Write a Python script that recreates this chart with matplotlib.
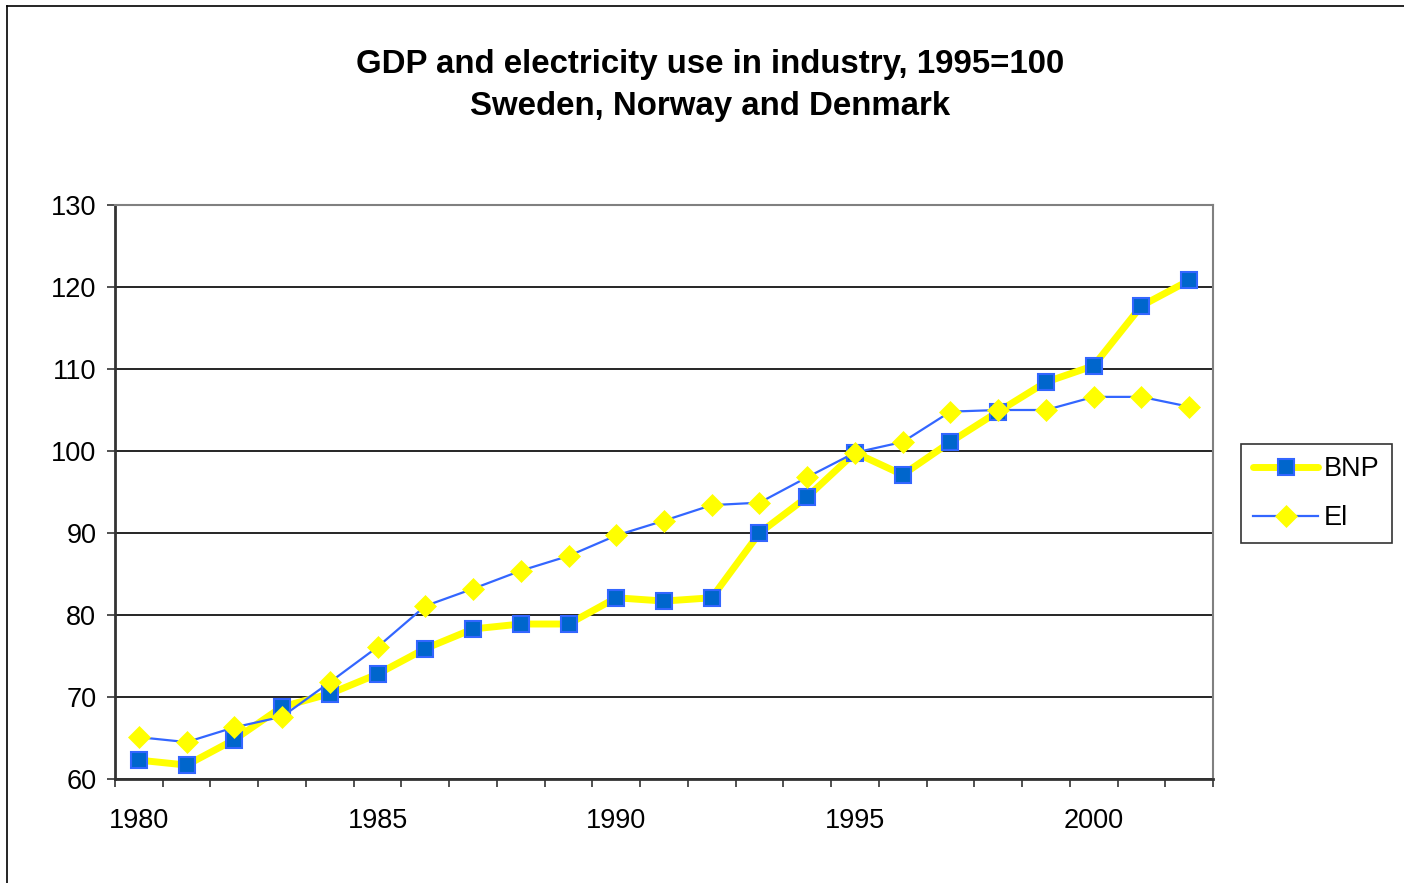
import matplotlib
matplotlib.use("Agg")
import matplotlib.pyplot as plt
from matplotlib.lines import Line2D

# Index values, 1995 = 100
years = list(range(1980, 2003))
bnp = [62.3, 61.7, 64.8, 68.8, 70.4, 72.8, 75.9, 78.3, 78.9, 78.9, 82.1, 81.7,
       82.1, 90.0, 94.4, 99.8, 97.1, 101.1, 104.8, 108.4, 110.4, 117.7, 120.8]
el = [65.1, 64.5, 66.3, 67.6, 71.8, 76.1, 81.1, 83.2, 85.4, 87.2, 89.7, 91.5,
      93.4, 93.7, 96.8, 99.8, 101.1, 104.8, 105.0, 105.0, 106.6, 106.6, 105.4]
year_labels = ["1980", "1985", "1990", "1995", "2000"]
y_ticks = [60, 70, 80, 90, 100, 110, 120, 130]

plt.rcParams["font.family"] = ["Liberation Sans", "DejaVu Sans"]

W, H = 1404, 883
fig = plt.figure(figsize=(W / 100, H / 100), dpi=100)

# outer chart frame (top and left edges)
fig.add_artist(Line2D([7 / W, 1.0], [1 - 6 / H, 1 - 6 / H], color="black", lw=1.2))
fig.add_artist(Line2D([7 / W, 7 / W], [0.0, 1 - 6 / H], color="black", lw=1.2))

ax = fig.add_axes([115 / W, 1 - 779 / H, (1213 - 115) / W, (779 - 205) / H])

x = list(range(len(years)))
ax.plot(x, bnp, color="#FFFF00", lw=5, solid_capstyle="round",
        marker="s", markersize=11.5, markerfacecolor="#0066CC",
        markeredgecolor="#3366FF", markeredgewidth=1.5, label="BNP", zorder=3)
ax.plot(x, el, color="#3366FF", lw=1.6,
        marker="D", markersize=11.5, markerfacecolor="#FFFF00",
        markeredgecolor="#FFFF00", markeredgewidth=0.5, label="El", zorder=4)

ax.set_ylim(60, 130)
ax.set_yticks(y_ticks)
ax.set_xlim(-0.5, len(years) - 0.5)

# category boundaries carry tick marks; labels sit under every fifth year
ax.set_xticks([i - 0.5 for i in range(len(years) + 1)])
ax.set_xticklabels([])
label_pos = [years.index(int(s)) for s in year_labels]
ax.set_xticks(label_pos, minor=True)
ax.set_xticklabels(year_labels, minor=True)
ax.tick_params(axis="x", which="major", direction="out", length=6, width=1.2, color="#333333")
ax.tick_params(axis="x", which="minor", length=0, pad=21, labelsize=19.5)
ax.tick_params(axis="y", direction="out", length=6, width=1.2, color="#333333",
               pad=7.5, labelsize=19.5)

ax.grid(axis="y", color="black", lw=1.2, zorder=1)
ax.set_axisbelow(True)
for side in ("top", "right"):
    ax.spines[side].set_color("#808080")
    ax.spines[side].set_linewidth(1.5)
for side in ("left", "bottom"):
    ax.spines[side].set_color("#333333")
    ax.spines[side].set_linewidth(2)

fig.text(710 / W, 1 - 64 / H, "GDP and electricity use in industry, 1995=100",
         ha="center", va="center", fontsize=23.8, fontweight="bold")
fig.text(710 / W, 1 - 106 / H, "Sweden, Norway and Denmark",
         ha="center", va="center", fontsize=23.8, fontweight="bold")

leg = fig.legend(loc="upper left", bbox_to_anchor=(1241 / W, 1 - 444 / H),
                 frameon=True, fancybox=False, fontsize=19.5, handlelength=2.4,
                 handletextpad=0.22, borderpad=0.45, labelspacing=0.85,
                 borderaxespad=0)
leg.get_frame().set_edgecolor("black")
leg.get_frame().set_linewidth(1.2)

fig.savefig("out.png", dpi=100)
